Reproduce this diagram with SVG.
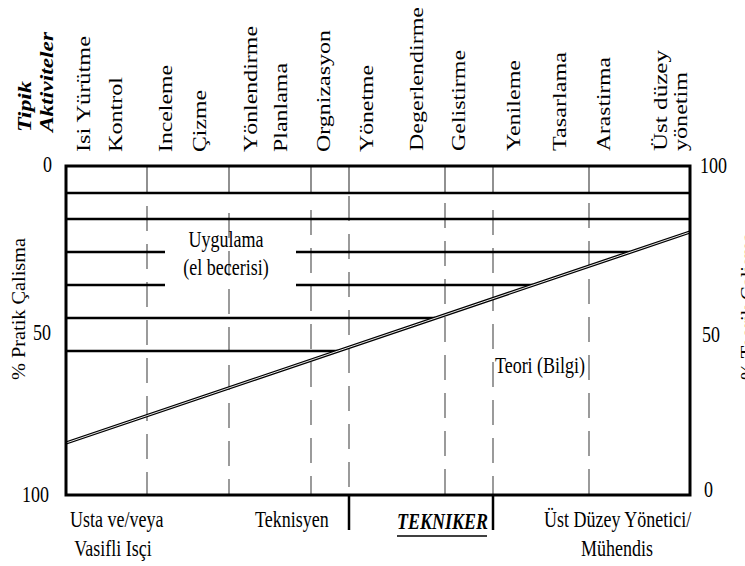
<svg xmlns="http://www.w3.org/2000/svg" width="745" height="566" viewBox="0 0 745 566">
<style>
.t{font-size:18px}
.v{font-size:19px}
.bi{font-weight:bold;font-style:italic}
.frame{fill:none;stroke:#000;stroke-width:3}
.h{stroke:#000;stroke-width:2.5;fill:none}
.vs{stroke:#555;stroke-width:1.3}
.vd{stroke:#666;stroke-width:1.3;stroke-dasharray:25 13}
.mk{stroke:#000;stroke-width:2.5}
</style>
<rect width="745" height="566" fill="#fff"/>

<g id="top-labels" font-family="Liberation Serif" fill="#000">
<text class="v bi" transform="translate(31,132) rotate(-90)" textLength="51" lengthAdjust="spacingAndGlyphs">Tipik</text>
<text class="v bi" transform="translate(53,132) rotate(-90)" textLength="100" lengthAdjust="spacingAndGlyphs">Aktiviteler</text>
<text class="v" transform="translate(90,152) rotate(-90)" textLength="116" lengthAdjust="spacingAndGlyphs">Isi Yürütme</text>
<text class="v" transform="translate(122,152) rotate(-90)" textLength="75" lengthAdjust="spacingAndGlyphs">Kontrol</text>
<text class="v" transform="translate(172,152) rotate(-90)" textLength="87" lengthAdjust="spacingAndGlyphs">Inceleme</text>
<text class="v" transform="translate(206,152) rotate(-90)" textLength="62" lengthAdjust="spacingAndGlyphs">Çizme</text>
<text class="v" transform="translate(257,152) rotate(-90)" textLength="126" lengthAdjust="spacingAndGlyphs">Yönlendirme</text>
<text class="v" transform="translate(287,152) rotate(-90)" textLength="89" lengthAdjust="spacingAndGlyphs">Planlama</text>
<text class="v" transform="translate(330,152) rotate(-90)" textLength="122" lengthAdjust="spacingAndGlyphs">Orgnizasyon</text>
<text class="v" transform="translate(373,152) rotate(-90)" textLength="87" lengthAdjust="spacingAndGlyphs">Yönetme</text>
<text class="v" transform="translate(423,151) rotate(-90)" textLength="144" lengthAdjust="spacingAndGlyphs">Degerlendirme</text>
<text class="v" transform="translate(465,151) rotate(-90)" textLength="101" lengthAdjust="spacingAndGlyphs">Gelistirme</text>
<text class="v" transform="translate(520,151) rotate(-90)" textLength="91" lengthAdjust="spacingAndGlyphs">Yenileme</text>
<text class="v" transform="translate(566,151) rotate(-90)" textLength="99" lengthAdjust="spacingAndGlyphs">Tasarlama</text>
<text class="v" transform="translate(610,151) rotate(-90)" textLength="94" lengthAdjust="spacingAndGlyphs">Arastirma</text>
<text class="v" transform="translate(667,151) rotate(-90)" textLength="101" lengthAdjust="spacingAndGlyphs">Üst düzey</text>
<text class="v" transform="translate(687,151) rotate(-90)" textLength="79" lengthAdjust="spacingAndGlyphs">yönetim</text>
</g>

<g id="axes" font-family="Liberation Serif" fill="#000">
<text class="t" transform="translate(43,172) scale(1,1.3)">0</text>
<text class="t" transform="translate(33,340) scale(1,1.3)">50</text>
<text class="t" transform="translate(22,502) scale(1,1.3)">100</text>
<text class="t" transform="translate(700,173) scale(1,1.3)">100</text>
<text class="t" transform="translate(702,342) scale(1,1.3)">50</text>
<text class="t" transform="translate(704,497) scale(1,1.3)">0</text>
<text class="v" transform="translate(25,380) rotate(-90)" textLength="142" lengthAdjust="spacingAndGlyphs">%  Pratik Çalisma</text>
<text class="v" transform="translate(754,380) rotate(-90)" textLength="147" lengthAdjust="spacingAndGlyphs">%  Teorik Calisma</text>
</g>

<g id="grid">
<line class="vs" x1="147" y1="166" x2="147" y2="193"/>
<line class="vs" x1="229" y1="166" x2="229" y2="193"/>
<line class="vs" x1="311" y1="166" x2="311" y2="193"/>
<line class="vs" x1="349" y1="166" x2="349" y2="193"/>
<line class="vs" x1="445" y1="166" x2="445" y2="193"/>
<line class="vs" x1="493" y1="166" x2="493" y2="193"/>
<line class="vs" x1="589" y1="166" x2="589" y2="193"/>
<line class="vd" x1="147" y1="206" x2="147" y2="495"/>
<line class="vd" x1="229" y1="213" x2="229" y2="495"/>
<line class="vd" x1="311" y1="210" x2="311" y2="495"/>
<line class="vd" x1="349" y1="196" x2="349" y2="495"/>
<line class="vd" x1="445" y1="203" x2="445" y2="495"/>
<line class="vd" x1="493" y1="210" x2="493" y2="495"/>
<line class="vd" x1="589" y1="203" x2="589" y2="495"/>
</g>

<g id="bands">
<line class="h" x1="66" y1="193" x2="690" y2="193"/>
<line class="h" x1="66" y1="219" x2="690" y2="219"/>
<line class="h" x1="66" y1="252" x2="165" y2="252"/>
<line class="h" x1="296" y1="252" x2="630" y2="252"/>
<line class="h" x1="66" y1="285" x2="165" y2="285"/>
<line class="h" x1="296" y1="285" x2="533" y2="285"/>
<line class="h" x1="66" y1="318" x2="435" y2="318"/>
<line class="h" x1="66" y1="351" x2="338" y2="351"/>
</g>

<g id="diagonal">
<line x1="66" y1="443" x2="690" y2="232" stroke="#000" stroke-width="3.4"/>
<line x1="66" y1="443" x2="690" y2="232" stroke="#fff" stroke-width="0.9"/>
</g>

<g id="frame">
<rect class="frame" x="66" y="166" width="624" height="329"/>
<line class="mk" x1="349" y1="495" x2="349" y2="530"/>
<line class="mk" x1="493" y1="495" x2="493" y2="530"/>
</g>

<g id="region-labels" font-family="Liberation Serif" fill="#000">
<text class="t" text-anchor="middle" transform="translate(226,247) scale(1,1.3)">Uygulama</text>
<text class="t" text-anchor="middle" transform="translate(226,275) scale(1,1.3)">(el becerisi)</text>
<text class="t" text-anchor="middle" transform="translate(540,373) scale(1,1.3)">Teori (Bilgi)</text>
</g>

<g id="bottom-labels" font-family="Liberation Serif" fill="#000">
<text class="t" transform="translate(70,527) scale(1,1.3)">Usta ve/veya</text>
<text class="t" text-anchor="middle" transform="translate(113,556) scale(1,1.3)">Vasifli Isçi</text>
<text class="t" transform="translate(255,527) scale(1,1.3)">Teknisyen</text>
<text class="t bi" transform="translate(397,529) scale(1,1.3)">TEKNIKER</text>
<line x1="397" y1="536" x2="487" y2="536" stroke="#000" stroke-width="1.4"/>
<text class="t" transform="translate(544,527) scale(1,1.3)">Üst Düzey Yönetici/</text>
<text class="t" text-anchor="middle" transform="translate(617,556) scale(1,1.3)">Mühendis</text>
</g>
</svg>
